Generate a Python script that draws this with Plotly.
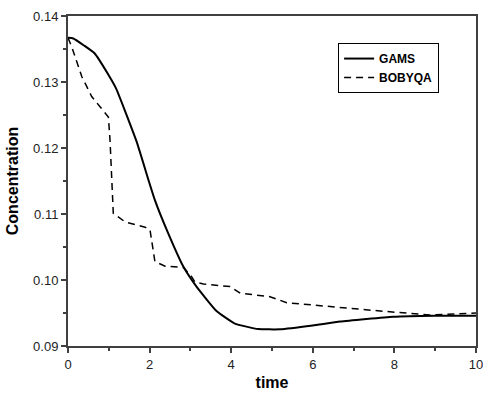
import plotly.graph_objects as go

# Data
gams_t = [0, 0.13, 0.4, 0.65, 0.99, 1.18, 1.68, 1.97, 2.13, 2.42, 2.83, 3.15, 3.64, 4.09, 4.66, 5.2, 6.0, 6.67, 7.97, 9.0, 10]
gams_c = [0.1367, 0.1366, 0.1355, 0.13435, 0.1311, 0.1290, 0.1210, 0.1152, 0.1121, 0.1076, 0.1020, 0.0990, 0.0953, 0.0934, 0.09257, 0.09253, 0.0931, 0.0937, 0.09444, 0.0946, 0.0946]

bob_t = [0, 0.09, 0.34, 0.58, 0.78, 0.99, 1.03, 1.11, 1.40, 1.89, 2.01, 2.13, 2.38, 2.83, 3.03, 3.11, 3.32, 3.97, 4.22, 4.95, 5.36, 6.42, 7.65, 8.87, 9.77, 10]
bob_c = [0.1367, 0.13535, 0.1308, 0.1278, 0.1263, 0.1247, 0.1212, 0.1101, 0.1088, 0.1080, 0.1076, 0.1028, 0.1021, 0.1019, 0.1005, 0.0997, 0.0994, 0.0990, 0.0980, 0.09747, 0.09656, 0.09595, 0.0953, 0.0947, 0.0949, 0.0950]

x_ticks = [0, 2, 4, 6, 8, 10]
y_ticks = [0.09, 0.10, 0.11, 0.12, 0.13, 0.14]
y_tick_labels = ["0.09", "0.10", "0.11", "0.12", "0.13", "0.14"]

FONT = "Liberation Sans, Arial, sans-serif"
AX = "#404040"

fig = go.Figure()
fig.add_trace(go.Scatter(x=gams_t, y=gams_c, mode="lines", name="GAMS",
                         line=dict(color="black", width=2, shape="spline", smoothing=0.4)))
fig.add_trace(go.Scatter(x=bob_t, y=bob_c, mode="lines", name="BOBYQA",
                         line=dict(color="black", width=1.5, dash="7px,5px")))

axis_common = dict(
    showgrid=False, zeroline=False, showline=True, linecolor=AX, linewidth=2,
    mirror=True, ticks="outside", ticklen=5, tickwidth=1.5, tickcolor=AX,
    tickfont=dict(family=FONT, size=13, color="#222"),
    ticklabeloverflow="allow",
)

fig.update_xaxes(range=[0, 10], tickvals=x_ticks,
                 minor=dict(dtick=1, ticks="outside", ticklen=3, tickcolor=AX, tickwidth=1.5),
                 title=dict(text="time", font=dict(family=FONT, size=16, color="black", weight="bold"), standoff=6),
                 **axis_common)
fig.update_yaxes(range=[0.09, 0.14], tickvals=y_ticks, ticktext=y_tick_labels,
                 minor=dict(dtick=0.005, tick0=0.09, ticks="outside", ticklen=3, tickcolor=AX, tickwidth=1.5),
                 title=dict(text="Concentration", font=dict(family=FONT, size=16, color="black", weight="bold"), standoff=10),
                 **axis_common)

fig.update_layout(
    width=483, height=397,
    margin=dict(l=68, r=7, t=16, b=51, autoexpand=False),
    paper_bgcolor="white", plot_bgcolor="white",
    font=dict(family=FONT),
    showlegend=True,
    legend=dict(x=0.662, y=0.918, xanchor="left", yanchor="top",
                bgcolor="white", bordercolor="black", borderwidth=1,
                font=dict(family=FONT, size=12, color="black", weight="bold"),
                itemwidth=30, tracegroupgap=0, entrywidth=72),
)

fig.write_html("out.html")
